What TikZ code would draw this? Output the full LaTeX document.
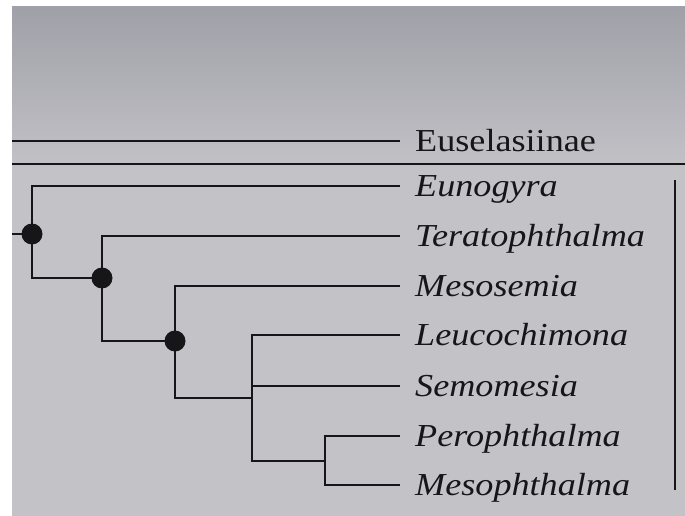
\documentclass[tikz,border=0pt]{standalone}
\usepackage{fontspec}
\setmainfont{Liberation Serif}[FakeStretch=1.13]
\usepackage{tikz}
\usetikzlibrary{positioning,calc}
\definecolor{cladPaperTop}{RGB}{160,160,168}
\definecolor{cladPaper}{RGB}{194,194,199}
\definecolor{cladInk}{RGB}{22,22,24}
\tikzset{
    cladBranch/.style={draw=cladInk, line width=1.7pt},
    cladTaxon/.style={
        anchor=west,
        inner xsep=15pt,
        inner ysep=0pt,
        text height=20pt,
        text depth=0pt,
        text=cladInk,
        font=\fontsize{32}{36}\selectfont\itshape
    },
    cladGroup/.style={cladTaxon, font=\fontsize{32}{36}\selectfont},
    cladDot/.style={circle, fill=cladInk, inner sep=0pt, minimum size=21pt}
}

\begin{document}
\begin{tikzpicture}[x=1pt, y=-1pt]
% paper
\fill[white] (0,0) rectangle (685,516);
\shade[top color=cladPaperTop, bottom color=cladPaper] (12,7) rectangle (685,170);
\fill[cladPaper] (12,170) rectangle (685,516);
\useasboundingbox (0,0) rectangle (685,516);

% terminal taxa
\node[cladGroup] (eus) at (400,141) {Euselasiinae};
\node[cladTaxon] (euno) at (400,186) {Eunogyra};
\node[cladTaxon] (tera) at (400,236) {Teratophthalma};
\node[cladTaxon] (meso) at (400,286) {Mesosemia};
\node[cladTaxon] (leuc) at (400,335) {Leucochimona};
\node[cladTaxon] (semo) at (400,386) {Semomesia};
\node[cladTaxon] (pero) at (400,436) {Perophthalma};
\node[cladTaxon] (mesoph) at (400,485) {Mesophthalma};

% internal nodes
\coordinate (root) at (12,234);
\coordinate (n1) at (32,234);
\coordinate (n2) at (102,278);
\coordinate (n3) at (175,341);
\coordinate (n4) at (252,398);
\coordinate (n5) at (325,461);

% outgroup and separator
\draw[cladBranch] (12,141) -- (eus.west);
\draw[cladBranch] (12,164) -- (685,164);
\draw[cladBranch, line width=1.3pt] (675,180) -- (675,490);

% tree
\draw[cladBranch] (root) -- (n1);
\draw[cladBranch] (n1) |- (euno.west);
\draw[cladBranch] (n1) |- (n2);
\draw[cladBranch] (n2) |- (tera.west);
\draw[cladBranch] (n2) |- (n3);
\draw[cladBranch] (n3) |- (meso.west);
\draw[cladBranch] (n3) |- (n4);
\draw[cladBranch] (n4) |- (leuc.west);
\draw[cladBranch] (n4) |- (semo.west);
\draw[cladBranch] (n4) |- (n5);
\draw[cladBranch] (n5) |- (pero.west);
\draw[cladBranch] (n5) |- (mesoph.west);

\foreach \n in {n1,n2,n3}
    \node[cladDot] at (\n) {};
\end{tikzpicture}
\end{document}
